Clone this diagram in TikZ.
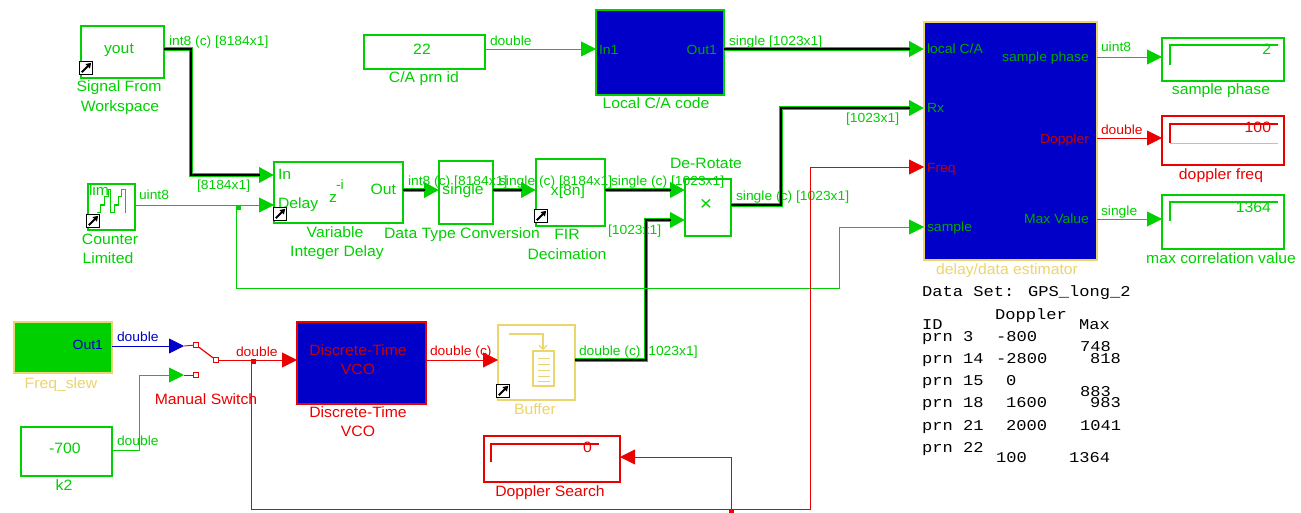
\documentclass[tikz,border=0pt]{standalone}
\usepackage{fontspec}
\setmainfont[FakeStretch=1.05]{Liberation Sans}
\newfontfamily\tablefont[FakeStretch=1.14]{Liberation Mono}
\usetikzlibrary{arrows.meta}
\definecolor{gn}{RGB}{0,208,0}
\definecolor{gd}{RGB}{0,165,0}
\definecolor{rd}{RGB}{235,0,0}
\definecolor{bl}{RGB}{0,0,200}
\definecolor{yl}{RGB}{236,212,110}
\tikzset{
 x=1pt,y=-1pt,
 blk/.style={draw,line width=1.1pt,inner sep=0pt,outer sep=0pt,align=center},
 gbox/.style={blk,draw=gn,text=gn},
 rbox/.style={blk,draw=rd,text=rd},
 ybox/.style={blk,draw=yl,text=yl},
 txt/.style={inner sep=0pt,outer sep=0pt,text height=.72em,text depth=.2em,yshift=-2.5pt},
 lab/.style={txt,font=\fontsize{15}{19}\selectfont,align=center},
 sig/.style={txt,font=\fontsize{13.2}{15}\selectfont,anchor=west},
 port/.style={txt,font=\fontsize{13.3}{15}\selectfont},
 tab/.style={txt,font=\tablefont\fontsize{15}{15}\selectfont,anchor=west,text=black},
 conn/.style={line width=.9pt,-{Triangle[length=15pt,width=15pt]}},
 plain/.style={line width=.9pt},
 bushalo/.style={draw=gn,line width=4.4pt,-{Triangle[length=15pt,width=15pt]}},
 buscore/.style={draw=black,line width=2.6pt,shorten >=14pt},
 iconbox/.style={draw=black,fill=white,line width=1.4pt,minimum size=13pt,inner sep=0pt},
 junc/.style={inner sep=0pt,minimum size=5pt,fill=#1},
 sw/.style={draw=rd,fill=white,line width=1.2pt,minimum size=5pt,inner sep=0pt},
}
\newcommand{\bx}[7][]{\node[#2,minimum width={(#6-#4)*1pt},minimum height={(#7-#5)*1pt},#1] (#3) at ({(#4+#6)/2},{(#5+#7)/2}) {};}
\newcommand{\shortcut}[3]{\node[iconbox] (#1) at (#2,#3) {};
 \draw[black,line width=1.8pt,-{Triangle[length=5pt,width=6pt]}] ([shift={(3pt,3pt)}]#1.south west) -- ([shift={(-2pt,-2pt)}]#1.north east);}
\newcommand{\bus}[1]{\draw[bushalo] #1; \draw[buscore] #1;}
\begin{document}
\begin{tikzpicture}
\useasboundingbox (0,0) rectangle (1301,512);
\fill[white] (0,0) rectangle (1301,512);
% blocks
\bx{gbox}{yout}{81}{26}{164}{78}
\bx{gbox}{cnt}{88}{184}{135}{230}
\bx{gbox}{vd}{274}{162}{403}{223}
\bx{gbox}{dtc}{439}{161}{493}{224}
\bx{gbox}{fir}{536}{159}{605}{226}
\bx{gbox}{mix}{685}{179}{731}{236}
\bx{gbox}{prn}{364}{35}{485}{69}
\bx[fill=bl]{gbox}{ca}{596}{10}{724}{95}
\bx[fill=bl]{ybox}{est}{924}{22}{1097}{260}
\bx{gbox}{d1}{1162}{38}{1284}{81}
\bx{rbox}{d2}{1162}{116}{1284}{165}
\bx{gbox}{d3}{1162}{195}{1284}{249}
\bx[fill=gn]{ybox}{slew}{14}{322}{112}{373}
\bx{gbox}{k2}{21}{427}{112}{476}
\bx[fill=bl]{rbox}{vco}{297}{322}{426}{404}
\bx{ybox}{buf}{498}{325}{575}{400}
\bx{rbox}{ds}{484}{436}{620}{482}
% labels that lie beneath connectors
\node[sig,text=gn] (s1) at (169,40) {int8 (c) [8184x1]};
\node[sig,text=gn] (s2) at (197,184) {[8184x1]};
\node[sig,text=gn] (s3) at (139,194) {uint8};
\node[sig,text=gn] (s4) at (408,180) {int8 (c) [8184x1]};
\node[sig,text=gn] (s5) at (499,180) {single (c) [8184x1]};
\node[sig,text=gn] (s6) at (611,180) {single (c) [1023x1]};
\node[sig,text=gn] (s7) at (608,229) {[1023x1]};
\node[sig,text=gn] (s8) at (736,195) {single (c) [1023x1]};
\node[sig,text=gn] (s9) at (846,117) {[1023x1]};
\node[sig,text=gn] (s10) at (490,40) {double};
\node[sig,text=gn] (s11) at (729,40) {single [1023x1]};
\node[sig,text=gn] (s12) at (579,350) {double (c) [1023x1]};
\node[sig,text=bl] (s13) at (117,336) {double};
\node[sig,text=rd] (s14) at (236,351) {double};
\node[sig,text=gn] (s15) at (117,440) {double};
\node[sig,text=rd] (s16) at (430,350) {double (c)};
\node[sig,text=gn] (s17) at (1101,46) {uint8};
\node[sig,text=rd] (s18) at (1101,129) {double};
\node[sig,text=gn] (s19) at (1101,210) {single};
% bus connectors
\bus{(yout.east |- 0,49) -- ++(27,0) |- (vd.west |- 0,175)}
\bus{(vd.east |- 0,190) -- (dtc.west |- 0,190)}
\bus{(dtc.east |- 0,190) -- (fir.west |- 0,190)}
\bus{(fir.east |- 0,190) -- (mix.west |- 0,190)}
\bus{(buf.east |- 0,360) -| (646,300) |- (mix.west |- 0,220)}
\bus{(mix.east |- 0,205) -- (781,205) |- (est.west |- 0,108)}
\bus{(ca.east |- 0,49) -- (est.west |- 0,49)}
% thin connectors
\draw[conn,gn] (cnt.east |- 0,205) -- (vd.west |- 0,205);
\coordinate (cntj) at (236,205);
\draw[conn,gn] (cntj) |- (839,288) |- (est.west |- 0,227);
\draw[conn,gn] (prn.east |- 0,49) -- (ca.west |- 0,49);
\draw[conn,gn] (est.east |- 0,57) -- (d1.west |- 0,57);
\draw[conn,rd] (est.east |- 0,138) -- (d2.west |- 0,138);
\draw[conn,gn] (est.east |- 0,219) -- (d3.west |- 0,219);
\node[junc=gn] (j1) at (238,207) {};
% switch
\node[sw] (p1) at (196,345) {};
\node[sw] (p2) at (196,375) {};
\node[sw] (p3) at (216,360) {};
\coordinate (in1) at (184,346);
\coordinate (in2) at (184,375);
\draw[conn,bl] (slew.east |- 0,346) -- (in1);
\draw[conn,gn] (k2.east |- 0,450) -- ++(27,0) |- (in2);
\draw[plain,rd] (in1) -- (p1); \draw[plain,rd] (in2) -- (p2);
\draw[plain,rd,line width=1.2pt] (p1) -- (p3);
\draw[conn,rd] (p3) -- (vco.west |- 0,360);
\draw[conn,rd] (vco.east |- 0,360) -- (buf.west |- 0,360);
\coordinate (swj) at (251,360);
\coordinate (dj) at (731,509);
\draw[conn,rd] (swj) |- (810,509) |- (est.west |- 0,167);
\draw[conn,rd] (dj) |- (ds.east |- 0,457);
\node[junc=rd] (j2) at (253,361) {};
\node[junc=rd] (j3) at (731,511) {};
% block texts
\node[lab,text=gn] at (119,48) (t1) {yout};
\node[lab,text=gn,anchor=west] (t2) at (89,190) {lim};
\node[lab,text=gn,anchor=west] (t3) at (278,174) {In};
\node[lab,text=gn,anchor=west] (t4) at (278,203) {Delay};
\node[lab,text=gn] (t5) at (333,197) {z};
\node[lab,text=gn,font=\fontsize{13.5}{15}\selectfont,anchor=west] (t6) at (336,184) {-i};
\node[lab,text=gn,anchor=east] (t7) at (396,189) {Out};
\node[lab,text=gn] (t8) at (463,189) {single};
\node[lab,text=gn] (t9) at (568,190) {x[8n]};
\node[lab,text=gn,font=\fontsize{20}{20}\selectfont] (t10) at (706,205) {×};
\node[lab,text=gn] (t11) at (422,49) {22};
\node[port,text=gd,anchor=west] (t12) at (599,49) {In1};
\node[port,text=gd,anchor=east] (t13) at (717,49) {Out1};
\node[port,text=gd,anchor=west] (t14) at (927,48) {local C/A};
\node[port,text=gd,anchor=west] (t15) at (927,107) {Rx};
\node[port,text=rd!85!black,anchor=west] (t16) at (927,167) {Freq};
\node[port,text=gd,anchor=west] (t17) at (927,226) {sample};
\node[port,text=gd,anchor=east] (t18) at (1089,56) {sample phase};
\node[port,text=rd!85!black,anchor=east] (t19) at (1089,138) {Doppler};
\node[port,text=gd,anchor=east] (t20) at (1089,218) {Max Value};
\node[port,text=bl,anchor=east] (t21) at (103,344) {Out1};
\node[lab,text=gn] (t22) at (65,448) {-700};
\node[lab,text=rd!85!black] (t23) at (358,350) {Discrete-Time};
\node[lab,text=rd!85!black] (t24) at (358,369) {VCO};
% captions
\node[lab,text=gn] (c1) at (119,86) {Signal From};
\node[lab,text=gn] (c2) at (120,106) {Workspace};
\node[lab,text=gn] (c3) at (110,239) {Counter};
\node[lab,text=gn] (c4) at (108,258) {Limited};
\node[lab,text=gn] (c5) at (335,232) {Variable};
\node[lab,text=gn] (c6) at (337,251) {Integer Delay};
\node[lab,text=gn] (c7) at (462,233) {Data Type Conversion};
\node[lab,text=gn] (c8) at (567,234) {FIR};
\node[lab,text=gn] (c9) at (567,254) {Decimation};
\node[lab,text=gn] (c10) at (706,163) {De-Rotate};
\node[lab,text=gn] (c11) at (424,77) {C/A prn id};
\node[lab,text=gn] (c12) at (656,103) {Local C/A code};
\node[lab,text=yl] (c13) at (1007,269) {delay/data estimator};
\node[lab,text=gn] (c14) at (1221,89) {sample phase};
\node[lab,text=rd] (c15) at (1221,174) {doppler freq};
\node[lab,text=gn] (c16) at (1221,258) {max correlation value};
\node[lab,text=yl] (c17) at (61,383) {Freq\_slew};
\node[lab,text=gn] (c18) at (64,485) {k2};
\node[lab,text=rd] (c19) at (206,399) {Manual Switch};
\node[lab,text=rd] (c20) at (358,412) {Discrete-Time};
\node[lab,text=rd] (c21) at (358,431) {VCO};
\node[lab,text=yl] (c22) at (535,409) {Buffer};
\node[lab,text=rd] (c23) at (550,491) {Doppler Search};
% staircase
\begin{scope}[shift={(60,10)},x=.3333pt,y=-.3333pt]
\draw[gn,line width=1.1pt] (112,608)--(122,608)--(122,585)--(133,585)--(133,560)--(145,560)--(145,538)--(152,538)--(152,608)--(163,608)--(163,585)--(175,585)--(175,560)--(185,560)--(185,538)--(197,538)--(197,608);
\end{scope}
% shortcut icons
\shortcut{i1}{86}{68}
\shortcut{i2}{93}{221}
\shortcut{i3}{280}{214}
\shortcut{i4}{541}{216}
\shortcut{i5}{503}{391}
% displays
\draw[gn,line width=1.2pt] (1170,65) -- (1170,45) -- (1278,45);
\draw[rd,line width=1.2pt] (1170,143) -- (1170,124) -- (1278,124);
\draw[rd!35,line width=.8pt] (1170,143) -- (1278,143);
\draw[gn,line width=1.2pt] (1170,221) -- (1170,202) -- (1278,202);
\draw[rd,line width=1.2pt] (491,462) -- (491,444) -- (599,444);
\node[lab,text=gn,anchor=east] (v1) at (1271,49) {2};
\node[lab,text=rd,anchor=east] (v2) at (1271,127) {100};
\node[lab,text=gn,anchor=east] (v3) at (1271,207) {1364};
\node[lab,text=rd,anchor=east] (v4) at (592,447) {0};
% buffer icon
\draw[yl,line width=1.1pt,-{Straight Barb[length=4pt,width=8pt]}] (509,334) -- (543,334) -- (543,350);
\draw[yl,line width=1.3pt] (533,351) rectangle (554,386);
\foreach \yy in {358,364,370,376,381}{\draw[yl,line width=1pt] (538,\yy) -- (550,\yy);}
% table
\node[tab] (a1) at (922,291) {Data Set: GPS\_long\_2};
\node[tab] (a2) at (995,314) {Doppler};
\node[tab] (a3) at (922,324) {ID};
\node[tab] (a4) at (1079,324) {Max};
\node[tab] (a5) at (922,336) {prn 3};
\node[tab] (a6) at (996,336) {-800};
\node[tab] (a7) at (1080,346) {748};
\node[tab] (a8) at (922,358) {prn 14};
\node[tab] (a9) at (996,358) {-2800};
\node[tab] (a10) at (1090,358) {818};
\node[tab] (a11) at (922,380) {prn 15};
\node[tab] (a12) at (1006,380) {0};
\node[tab] (a13) at (1080,391) {883};
\node[tab] (a14) at (922,402) {prn 18};
\node[tab] (a15) at (1006,402) {1600};
\node[tab] (a16) at (1090,402) {983};
\node[tab] (a17) at (922,425) {prn 21};
\node[tab] (a18) at (1006,425) {2000};
\node[tab] (a19) at (1080,425) {1041};
\node[tab] (a20) at (922,447) {prn 22};
\node[tab] (a21) at (996,457) {100};
\node[tab] (a22) at (1069,457) {1364};
\end{tikzpicture}
\end{document}
